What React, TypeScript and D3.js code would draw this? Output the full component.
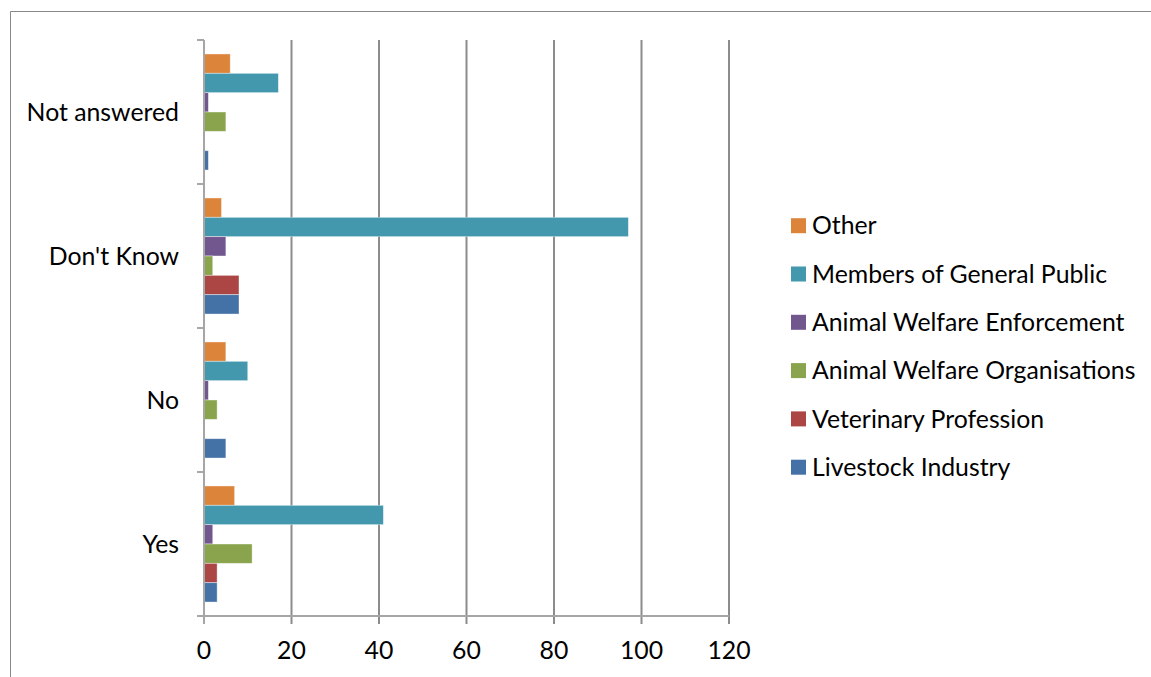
import React from "react";
import * as d3 from "d3";

const categories = ["Yes", "No", "Don't Know", "Not answered"];
const seriesNames = [
  "Other",
  "Members of General Public",
  "Animal Welfare Enforcement",
  "Animal Welfare Organisations",
  "Veterinary Profession",
  "Livestock Industry",
];
const seriesColors = ["#dd843b", "#4398ae", "#72578f", "#89a44d", "#ab4644", "#4471a6"];
// values per series, in category order: Yes, No, Don't Know, Not answered
const other = [7, 5, 4, 6];
const generalPublic = [41, 10, 97, 17];
const enforcement = [2, 1, 5, 1];
const organisations = [11, 3, 2, 5];
const veterinary = [3, 0, 8, 0];
const livestock = [3, 5, 8, 1];
const seriesValues = [other, generalPublic, enforcement, organisations, veterinary, livestock];
const xTicks = [0, 20, 40, 60, 80, 100, 120];

const W = 1151;
const H = 677;
const FONT = "Lato, 'Open Sans', sans-serif";
const FS = 24.8;

export default function App() {
  const left = 204;
  const right = 729;
  const top = 40;
  const bottom = 616;
  const x = d3.scaleLinear().domain([0, 120]).range([left, right]);
  const y = d3
    .scaleBand<string>()
    .domain([...categories].reverse())
    .range([top, bottom])
    .padding(0);
  const bw = y.bandwidth();
  const inner = d3
    .scaleBand<string>()
    .domain(seriesNames)
    .range([bw * 0.097, bw * (1 - 0.097)])
    .padding(0);
  const gridColor = "#8c8c8c";
  const axisColor = "#a6a6a6";
  const boundaries = categories.map((c) => y(c)!).concat([bottom]);
  const legendY = d3.scalePoint<string>().domain(seriesNames).range([225.7, 467.2]);

  return (
    <svg
      width={W}
      height={H}
      style={{ position: "fixed", left: 0, top: 0, background: "#fff" }}
      fontFamily={FONT}
    >
      <rect x={0} y={0} width={W} height={H} fill="#fff" />
      {/* outer chart border */}
      <line x1={10.5} y1={11.5} x2={W} y2={11.5} stroke="#898989" strokeWidth={1} />
      <line x1={10.5} y1={11.5} x2={10.5} y2={H} stroke="#898989" strokeWidth={1} />
      {/* gridlines */}
      {xTicks.slice(1).map((t) => (
        <line key={t} x1={x(t)} x2={x(t)} y1={top} y2={bottom + 8} stroke={gridColor} strokeWidth={2} />
      ))}
      {/* bars */}
      {seriesNames.map((s, si) =>
        categories.map((c, ci) => {
          const v = seriesValues[si][ci];
          if (!v) return null;
          return (
            <rect
              key={s + c}
              x={x(0)}
              y={y(c)! + inner(s)!}
              width={x(v) - x(0)}
              height={inner.bandwidth()}
              fill={seriesColors[si]}
              stroke="#ffffff"
              strokeOpacity={0.5}
              strokeWidth={0.8}
            />
          );
        })
      )}
      {/* y axis */}
      <line x1={x(0)} x2={x(0)} y1={top} y2={bottom + 8} stroke={axisColor} strokeWidth={2} />
      {boundaries.map((b, i) => (
        <line key={i} x1={x(0) - 7} x2={x(0)} y1={b} y2={b} stroke={axisColor} strokeWidth={2} />
      ))}
      {/* x axis */}
      <line x1={x(0) - 7} x2={right} y1={bottom} y2={bottom} stroke={axisColor} strokeWidth={2} />
      {xTicks.map((t) => (
        <text key={t} x={x(t)} y={658.5} textAnchor="middle" fontSize={FS} fill="#000">
          {t}
        </text>
      ))}
      {categories.map((c) => (
        <text
          key={c}
          x={179}
          y={y(c)! + bw / 2 + 8.5}
          textAnchor="end"
          fontSize={FS}
          fill="#000"
        >
          {c}
        </text>
      ))}
      {/* legend */}
      {seriesNames.map((s, si) => (
        <g key={s}>
          <rect x={791} y={legendY(s)! - 7.5} width={15} height={15} fill={seriesColors[si]} />
          <text x={812} y={legendY(s)! + 8.6} fontSize={FS} fill="#000">
            {s}
          </text>
        </g>
      ))}
    </svg>
  );
}
